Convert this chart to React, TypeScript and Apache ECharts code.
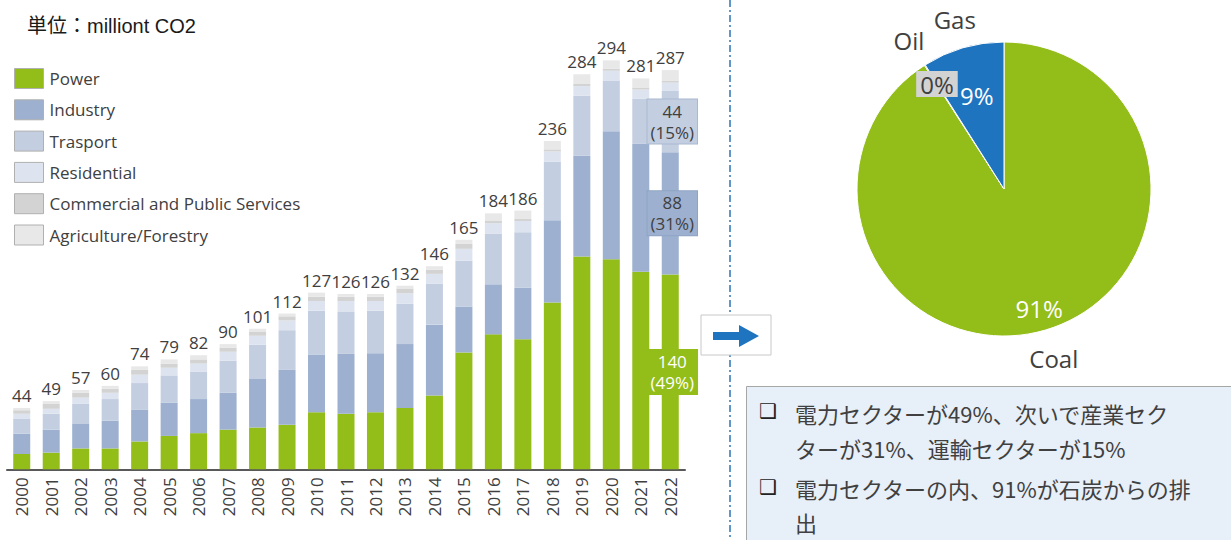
import React, { useEffect, useRef } from "react";
import * as echarts from "echarts";

const years = ["2000","2001","2002","2003","2004","2005","2006","2007","2008","2009","2010","2011","2012","2013","2014","2015","2016","2017","2018","2019","2020","2021","2022"];
const power = [11,12,15,15,20,24,26,28.5,30,32,41,40,41,44,53,84,97,93.5,120,153,151,142,140];
const industry = [14.5,16.5,18,20,23,24,24.5,26.5,35,39.5,41.5,43,42.5,46,51,33,36,37,59,72.5,92,92,88];
const transport = [11,11.5,14,15.5,19,19.5,19.5,23,24.5,28.5,31.5,30.5,30.5,29,29.5,33,36.5,40,42,43,36.5,32.5,44];
const residential = [3.5,3.5,4.5,4.5,6,5.5,6,6.5,6.5,7,7,7.5,7,7.5,7,8.5,7.5,8,7.5,7,7,6.5,6];
const commercial = [2.5,3.5,3.5,3,3.5,3,3,3,3,3,3,3,3,3.5,3,3.5,1.5,1.5,1.5,1.5,1.5,1.5,1.5];
const agriculture = [1.5,2,2,2,2.5,3,3,2.5,2,2,3,2,2,2,2.5,3,5.5,6,6,7,6,6.5,7.5];
const totals = [44,49,57,60,74,79,82,90,101,112,127,126,126,132,146,165,184,186,236,284,294,281,287];

const sectorNames = ["Power","Industry","Trasport","Residential","Commercial and Public Services","Agriculture/Forestry"];
const sectorColors = ["#93BD18","#9DB0CF","#C3CEE1","#DEE4EF","#D3D3D3","#E8E8E8"];

const fuels = ["Coal","Oil","Gas"];
const fuelShares = [90.9, 0.1, 9.0];
const fuelColors = ["#93BD18","#A5A5A5","#1F74C0"];

const unitLabel = "単位：milliont CO2";
const notes = [
  "電力セクターが49%、次いで産業セク\nターが31%、運輸セクターが15%",
  "電力セクターの内、91%が石炭からの排\n出",
];

const FONT = "'Open Sans', 'Noto Sans CJK JP', sans-serif";
const TXT = "#404040";

export default function App() {
  const ref = useRef<HTMLDivElement>(null);
  useEffect(() => {
    document.body.style.margin = "0";
    const chart = echarts.init(ref.current!, null, { renderer: "svg" });
    const sectors = [power, industry, transport, residential, commercial, agriculture];
    const last = years.length - 1;
    const annot: Record<number, any> = {
      0: { color: "#ffffff", backgroundColor: sectorColors[0], borderColor: "#93BD18" },
      1: { color: TXT, backgroundColor: sectorColors[1], borderColor: "#8FA3C4" },
      2: { color: TXT, backgroundColor: sectorColors[2], borderColor: "#A9B8D0" },
    };
    const barSeries: any[] = sectors.map((arr, si) => ({
      type: "bar",
      name: sectorNames[si],
      stack: "total",
      barWidth: 17,
      itemStyle: { color: sectorColors[si] },
      emphasis: { disabled: true },
      data: arr.map((v, i) => {
        if (i === last && annot[si]) {
          return {
            value: v,
            label: {
              show: true,
              position: "inside",
              offset: [2, 0],
              formatter: `${v}\n(${Math.round((v / totals[i]) * 100)}%)`,
              fontFamily: FONT,
              fontSize: 17,
              lineHeight: 21,
              padding: [1, 3],
              borderWidth: 1,
              ...annot[si],
            },
          };
        }
        return v;
      }),
      label:
        si === sectors.length - 1
          ? {
              show: true,
              position: "top",
              distance: 4,
              formatter: (p: any) => String(totals[p.dataIndex]),
              fontFamily: FONT,
              fontSize: 17,
              color: TXT,
            }
          : { show: false },
    }));

    const pieCenter = [1004, 189];
    const pieData = (labelFor: (i: number) => any, transparent: boolean) =>
      fuels.map((n, i) => ({
        name: n,
        value: fuelShares[i],
        itemStyle: transparent ? { color: "rgba(0,0,0,0)", borderWidth: 0 } : { color: fuelColors[i] },
        label: labelFor(i),
      }));

    const option: any = {
      animation: false,
      backgroundColor: "#ffffff",
      title: {
        text: unitLabel,
        left: 22,
        top: 11,
        textStyle: { fontFamily: "'Liberation Sans', 'Noto Sans CJK JP', sans-serif", fontSize: 20, fontWeight: "normal", color: "#1a1a1a" },
      },
      legend: {
        orient: "vertical",
        left: 14,
        top: 68,
        padding: 0,
        itemWidth: 29,
        itemHeight: 20,
        itemGap: 10.3,
        icon: "rect",
        itemStyle: { borderColor: "#B0B0B0", borderWidth: 1 },
        textStyle: { fontFamily: FONT, fontSize: 17, color: TXT, padding: [0, 0, 0, 1] },
        data: sectorNames,
      },
      grid: { left: 7, right: 546, top: 52, bottom: 70.7 },
      xAxis: {
        type: "category",
        data: years,
        axisLine: { lineStyle: { color: "#595959", width: 2 } },
        axisTick: { show: false },
        axisLabel: { rotate: 90, fontFamily: FONT, fontSize: 17, color: TXT, margin: 8 },
      },
      yAxis: { type: "value", min: 0, max: 300, show: false, splitLine: { show: false } },
      series: [
        ...barSeries,
        {
          type: "pie",
          center: pieCenter,
          radius: 147,
          startAngle: 90,
          clockwise: true,
          silent: true,
          itemStyle: { borderColor: "#ffffff", borderWidth: 1 },
          label: { show: false },
          labelLine: { show: false },
          data: pieData(() => ({ show: false }), false),
        },
        {
          type: "pie",
          center: pieCenter,
          radius: [147, 200],
          startAngle: 90,
          clockwise: true,
          silent: true,
          labelLine: { show: false },
          label: { show: true, position: "inside", formatter: "{b}", fontFamily: FONT, fontSize: 24, color: TXT },
          data: pieData(() => ({}), true),
        },
        {
          type: "pie",
          center: pieCenter,
          radius: [96, 147],
          startAngle: 90,
          clockwise: true,
          silent: true,
          labelLine: { show: false },
          label: {
            show: true,
            position: "inside",
            formatter: (p: any) => Math.round(p.percent) + "%",
            fontFamily: FONT,
            fontSize: 24,
            color: "#ffffff",
          },
          data: pieData(
            (i) =>
              i === 2
                ? { show: false }
                : i === 1
                ? { color: TXT, backgroundColor: "#D3D3D3", padding: [1, 4] }
                : {},
            true
          ),
        },
        {
          type: "pie",
          center: pieCenter,
          radius: [42, 147],
          startAngle: 90,
          clockwise: true,
          silent: true,
          labelLine: { show: false },
          label: {
            show: true,
            position: "inside",
            formatter: (p: any) => Math.round(p.percent) + "%",
            fontFamily: FONT,
            fontSize: 24,
            color: "#ffffff",
          },
          data: pieData((i) => (i === 2 ? {} : { show: false }), true),
        },
      ],
      graphic: [
        {
          type: "line",
          shape: { x1: 730, y1: 0, x2: 730, y2: 540 },
          style: { stroke: "#2E75B6", lineWidth: 1.5, lineDash: [7, 3, 2, 3] },
        },
        {
          type: "rect",
          shape: { x: 701, y: 315, width: 70, height: 40 },
          style: { fill: "#ffffff", stroke: "#C8C8C8", lineWidth: 1 },
        },
        {
          type: "polygon",
          shape: {
            points: [
              [713, 332], [739, 332], [739, 325], [759, 336], [739, 347], [739, 340], [713, 340],
            ],
          },
          style: { fill: "#1F74C0" },
        },
        {
          type: "rect",
          shape: { x: 746.5, y: 386.5, width: 490, height: 160 },
          style: { fill: "#E7EFF8", stroke: "#A6A6A6", lineWidth: 1 },
        },
        {
          type: "text",
          x: 759,
          y: 401,
          style: { text: "❑", font: "bold 20px 'DejaVu Sans'", fill: "#222" },
        },
        {
          type: "text",
          x: 759,
          y: 477,
          style: { text: "❑", font: "bold 20px 'DejaVu Sans'", fill: "#222" },
        },
        {
          type: "text",
          x: 795,
          y: 395,
          style: { text: notes[0], font: "22px 'Noto Sans CJK JP'", fill: TXT, lineHeight: 35 },
        },
        {
          type: "text",
          x: 795,
          y: 471,
          style: { text: notes[1], font: "22px 'Noto Sans CJK JP'", fill: TXT, lineHeight: 34 },
        },
      ],
    };
    chart.setOption(option);
    return () => chart.dispose();
  }, []);
  return <div ref={ref} style={{ width: 1231, height: 540 }} />;
}
